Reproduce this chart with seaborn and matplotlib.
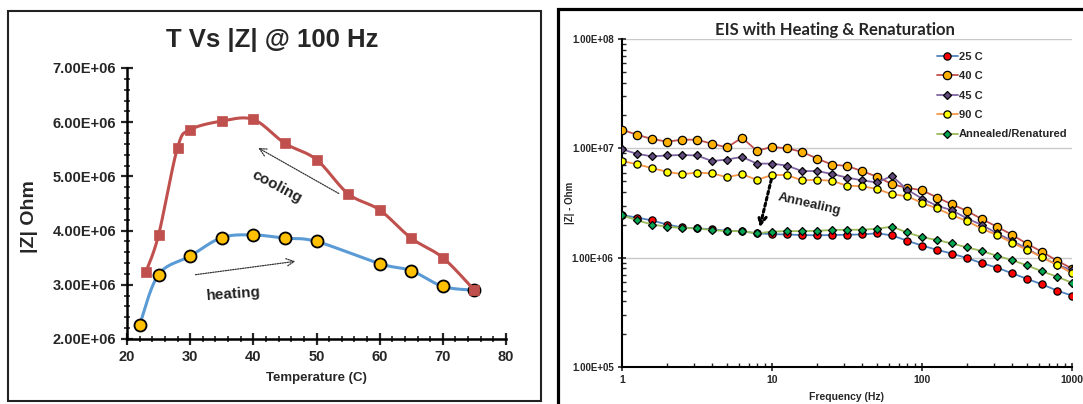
import numpy as np
import matplotlib
matplotlib.use("Agg")
import matplotlib.pyplot as plt
import seaborn as sns
from matplotlib.ticker import FuncFormatter, MultipleLocator, FixedLocator, LogLocator, NullFormatter
from matplotlib.patches import Rectangle

# ---- Temperature sweep at 100 Hz ----
heat_temp = [22, 25, 30, 35, 40, 45, 50, 60, 65, 70, 75]
heat_z = [2.26e6, 3.19e6, 3.53e6, 3.87e6, 3.92e6, 3.86e6, 3.80e6, 3.39e6, 3.26e6, 2.97e6, 2.90e6]
cool_temp = [23, 25, 28, 30, 35, 40, 45, 50, 55, 60, 65, 70, 75]
cool_z = [3.24e6, 3.92e6, 5.53e6, 5.86e6, 6.02e6, 6.05e6, 5.61e6, 5.31e6,
          4.68e6, 4.38e6, 3.86e6, 3.50e6, 2.90e6]

# ---- Impedance spectra ----
freq = [1, 1.26, 1.58, 2, 2.51, 3.16, 3.98, 5.01, 6.31, 7.94,
        10, 12.6, 15.8, 20, 25.1, 31.6, 39.8, 50.1, 63.1, 79.4,
        100, 126, 158, 200, 251, 316, 398, 501, 631, 794, 1000]
z_25c = [2.45e6, 2.33e6, 2.19e6, 2.01e6, 1.89e6, 1.85e6, 1.82e6, 1.76e6, 1.74e6, 1.67e6,
         1.64e6, 1.63e6, 1.61e6, 1.60e6, 1.61e6, 1.62e6, 1.63e6, 1.67e6, 1.60e6, 1.43e6,
         1.29e6, 1.18e6, 1.09e6, 9.9e5, 8.9e5, 8.1e5, 7.2e5, 6.4e5, 5.7e5, 5.0e5, 4.5e5]
z_40c = [1.48e7, 1.33e7, 1.22e7, 1.15e7, 1.20e7, 1.20e7, 1.10e7, 1.02e7, 1.25e7, 9.5e6,
         1.03e7, 1.00e7, 9.3e6, 8.05e6, 7.1e6, 6.9e6, 6.2e6, 5.5e6, 4.7e6, 4.35e6,
         4.14e6, 3.55e6, 3.08e6, 2.67e6, 2.25e6, 1.92e6, 1.62e6, 1.34e6, 1.13e6, 9.4e5, 7.95e5]
z_45c = [9.8e6, 8.9e6, 8.45e6, 8.6e6, 8.7e6, 8.6e6, 7.65e6, 7.9e6, 8.35e6, 7.25e6,
         7.25e6, 6.95e6, 6.2e6, 6.2e6, 5.83e6, 5.4e6, 5.1e6, 4.87e6, 5.6e6, 4.2e6,
         3.47e6, 2.98e6, 2.72e6, 2.28e6, 1.99e6, 1.67e6, 1.43e6, 1.21e6, 1.01e6, 8.6e5, 7.7e5]
z_90c = [7.65e6, 7.15e6, 6.6e6, 6.1e6, 5.8e6, 6.0e6, 5.9e6, 5.45e6, 5.8e6, 5.15e6,
         5.7e6, 5.7e6, 5.1e6, 5.15e6, 5.05e6, 4.55e6, 4.5e6, 4.25e6, 3.8e6, 3.65e6,
         3.17e6, 2.82e6, 2.45e6, 2.16e6, 1.84e6, 1.61e6, 1.37e6, 1.18e6, 1.01e6, 8.6e5, 7.2e5]
z_annealed = [2.44e6, 2.20e6, 2.01e6, 1.92e6, 1.87e6, 1.85e6, 1.79e6, 1.75e6, 1.75e6, 1.67e6,
              1.73e6, 1.75e6, 1.75e6, 1.76e6, 1.79e6, 1.80e6, 1.80e6, 1.84e6, 1.92e6, 1.70e6,
              1.54e6, 1.45e6, 1.35e6, 1.24e6, 1.15e6, 1.04e6, 9.5e5, 8.5e5, 7.5e5, 6.7e5, 5.9e5]
series_labels = ["25 C", "40 C", "45 C", "90 C", "Annealed/Renatured"]

sns.set_style("white")
plt.rcParams["font.family"] = ["Liberation Sans", "DejaVu Sans"]
plt.rcParams["font.weight"] = "bold"

W, H = 1083, 404
fig = plt.figure(figsize=(W / 100, H / 100), dpi=100)


def px_axes(x0, y0, x1, y1):
    return fig.add_axes([x0 / W, 1 - y1 / H, (x1 - x0) / W, (y1 - y0) / H])


def catmull_rom(x, y, n=24):
    """Smooth path through the points (Excel-style smoothed line)."""
    P = np.column_stack([x, y]).astype(float)
    P = np.vstack([P[0], P, P[-1]])
    segs = []
    t = np.linspace(0, 1, n, endpoint=False)[:, None]
    for i in range(1, len(P) - 2):
        p0, p1, p2, p3 = P[i - 1], P[i], P[i + 1], P[i + 2]
        segs.append(0.5 * (2 * p1 + (-p0 + p2) * t + (2 * p0 - 5 * p1 + 4 * p2 - p3) * t ** 2
                           + (-p0 + 3 * p1 - 3 * p2 + p3) * t ** 3))
    segs.append(P[-2][None, :])
    S = np.vstack(segs)
    return S[:, 0], S[:, 1]


sci = FuncFormatter(lambda v, p: f"{v:.2E}")

# ---------------- left panel ----------------
axL = px_axes(127, 68, 506, 339)
axL.set_xlim(20, 80)
axL.set_ylim(2e6, 7e6)

hx, hy = catmull_rom(heat_temp, heat_z)
axL.plot(hx, hy, color="#5B9BD5", lw=2.2, zorder=2)
sns.scatterplot(x=heat_temp, y=heat_z, ax=axL, marker="o", s=75, color="#FFC000",
                edgecolor="black", linewidth=1.3, zorder=3)
cx, cy = catmull_rom(cool_temp, cool_z)
axL.plot(cx, cy, color="#C0504D", lw=2.2, zorder=4)
sns.scatterplot(x=cool_temp, y=cool_z, ax=axL, marker="s", s=60, color="#C0504D",
                edgecolor="#C0504D", linewidth=0.5, zorder=5)

fig.text(272 / W, 1 - 40 / H, "T Vs |Z| @ 100 Hz", fontsize=18.5, fontweight="bold",
         ha="center", va="center")
axL.set_xlabel("Temperature (C)", fontsize=9.5, fontweight="bold", labelpad=6)
axL.set_ylabel("|Z| Ohm", fontsize=14, fontweight="bold")
axL.yaxis.set_label_coords(-0.235, 0.45)
axL.yaxis.set_major_locator(MultipleLocator(1e6))
axL.yaxis.set_minor_locator(MultipleLocator(2e5))
axL.xaxis.set_major_locator(MultipleLocator(10))
axL.xaxis.set_minor_locator(MultipleLocator(2))
axL.yaxis.set_major_formatter(sci)
axL.tick_params(which="both", left=True, bottom=True)
axL.tick_params(which="major", direction="inout", length=8, width=1.6, labelsize=10.5, pad=4)
axL.tick_params(which="minor", direction="inout", length=4, width=1.2)
for s in ("top", "right"):
    axL.spines[s].set_visible(False)
for s in ("left", "bottom"):
    axL.spines[s].set_linewidth(1.8)
    axL.spines[s].set_color("black")
for lab in axL.get_xticklabels() + axL.get_yticklabels():
    lab.set_fontweight("bold")

axL.annotate("", xy=(40.4, 5.55e6), xytext=(53.9, 4.66e6),
             arrowprops=dict(arrowstyle="->", linestyle=(0, (1, 1)), lw=0.9, color="#333333",
                             mutation_scale=14))
axL.annotate("", xy=(47.1, 3.44e6), xytext=(30.4, 3.18e6),
             arrowprops=dict(arrowstyle="->", linestyle=(0, (1, 1)), lw=0.9, color="#333333",
                             mutation_scale=14))
axL.text(43.7, 4.81e6, "cooling", rotation=-28, ha="center", va="center",
         fontsize=11, fontweight="bold", color="#222222")
axL.text(36.9, 2.83e6, "heating", rotation=4, ha="center", va="center",
         fontsize=11, fontweight="bold", color="#222222")

# ---------------- right panel ----------------
axR = px_axes(622, 39, 1072, 367)
axR.set_xscale("log")
axR.set_yscale("log")
axR.set_xlim(1, 1000)
axR.set_ylim(1e5, 1e8)
for v in (1e6, 1e7, 1e8):
    axR.axhline(v, color="#C8C8C8", lw=1.0, zorder=0)

styles = [
    (z_25c, "#4F81BD", "o", "#FF0000", 5.2),
    (z_40c, "#C0504D", "o", "#FFB000", 6.0),
    (z_45c, "#8064A2", "D", "#604A7B", 4.0),
    (z_90c, "#F79646", "o", "#FFFF00", 5.2),
    (z_annealed, "#9BBB59", "D", "#00A650", 4.0),
]
for (vals, lc, mk, fc, ms), lab in zip(styles, series_labels):
    sns.lineplot(x=freq, y=vals, ax=axR, color=lc, lw=1.3, marker=mk, markersize=ms,
                 markerfacecolor=fc, markeredgecolor="black", markeredgewidth=0.9,
                 label=lab, zorder=3)

fig.text(835 / W, 1 - 30 / H, "EIS with Heating & Renaturation", fontsize=12,
         fontweight="bold", family=["Lato", "DejaVu Sans"], ha="center", va="center")
axR.set_xlabel("Frequency (Hz)", fontsize=7.5, fontweight="bold", labelpad=5)
axR.set_ylabel("|Z| - Ohm", fontsize=7, fontweight="bold")
axR.yaxis.set_label_coords(-0.105, 0.5)
axR.xaxis.set_major_locator(FixedLocator([1, 10, 100, 1000]))
axR.xaxis.set_major_formatter(FuncFormatter(lambda v, p: f"{v:g}"))
axR.xaxis.set_minor_locator(LogLocator(base=10, subs=np.arange(2, 10)))
axR.xaxis.set_minor_formatter(NullFormatter())
axR.yaxis.set_major_locator(FixedLocator([1e5, 1e6, 1e7, 1e8]))
axR.yaxis.set_major_formatter(sci)
axR.yaxis.set_minor_locator(LogLocator(base=10, subs=np.arange(2, 10)))
axR.yaxis.set_minor_formatter(NullFormatter())
axR.tick_params(which="both", left=True, bottom=True)
axR.tick_params(which="major", direction="inout", length=6, width=1.2, labelsize=7.5, pad=3)
axR.tick_params(axis="y", which="major", labelsize=7)
axR.tick_params(which="minor", direction="in", length=3, width=1.0)
for s in ("top", "right"):
    axR.spines[s].set_visible(False)
for s in ("left", "bottom"):
    axR.spines[s].set_linewidth(1.5)
    axR.spines[s].set_color("black")
for lab in axR.get_xticklabels() + axR.get_yticklabels():
    lab.set_fontweight("bold")

axR.annotate("", xy=(8.2, 1.79e6), xytext=(10, 5.5e6),
             arrowprops=dict(arrowstyle="->", linestyle=(0, (1, 1)), lw=2.2, color="black",
                             mutation_scale=14))
axR.text(17.6, 3.1e6, "Annealing", rotation=-13, ha="center", va="center",
         fontsize=9.5, fontweight="bold", color="#222222")

leg = axR.legend(loc="upper left", bbox_to_anchor=(0.69, 0.975), frameon=False,
                 fontsize=8, handlelength=1.9, handletextpad=0.1, labelspacing=0.85,
                 borderaxespad=0)
for t in leg.get_texts():
    t.set_fontweight("bold")

# panel frames
fig.add_artist(Rectangle((8 / W, 1 - 401 / H), (541 - 8) / W, (401 - 11) / H,
                         transform=fig.transFigure, fill=False, lw=1.5, edgecolor="#222222"))
fig.add_artist(Rectangle((557.5 / W, -0.05), 0.6, 1.05 - 9 / H,
                         transform=fig.transFigure, fill=False, lw=2.3, edgecolor="black"))

fig.savefig("out.png", dpi=100)
